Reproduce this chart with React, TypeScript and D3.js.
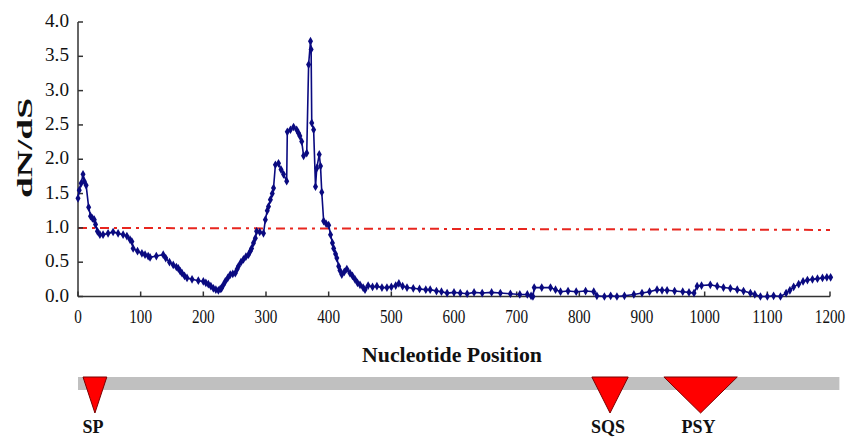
import React from 'react';
import * as d3 from 'd3';

// sliding-window dN/dS along the gene (nucleotide position, ratio)
const positions = [
  0, 2, 5, 8, 10, 13, 17, 20, 23, 26, 28, 31, 35, 40, 48, 56, 64, 72, 78, 83, 86, 88, 95, 102, 107, 112, 115, 125,
  136, 140, 146, 152, 157, 160, 163, 166, 170, 174, 182, 192, 200, 204, 208, 212, 216, 220, 224, 227, 229, 232, 235,
  239, 243, 247, 251, 254, 256, 260, 264, 268, 272, 275, 277, 280, 283, 285, 290, 296, 299, 302, 304, 307, 310, 312,
  315, 320, 324, 328, 333, 334, 339, 344, 349, 352, 354, 357, 360, 365, 368, 371, 372, 373, 376, 379, 381, 385, 387,
  389, 392, 396, 400, 403, 406, 408, 411, 413, 416, 418, 421, 425, 429, 434, 438, 442, 446, 450, 455, 458, 463, 470,
  477, 485, 493, 500, 507, 512, 518, 525, 535, 545, 555, 562, 572, 580, 589, 600, 610, 621, 632, 645, 660, 674, 690,
  705, 717, 723, 726, 728, 740, 754, 762, 770, 782, 795, 810, 823, 828, 840, 850, 860, 872, 887, 900, 912, 924, 932,
  940, 952, 965, 975, 983, 988, 995, 1009, 1020, 1030, 1041, 1052, 1062, 1073, 1080, 1089, 1100, 1110, 1121, 1130,
  1136, 1142, 1150, 1157, 1164, 1172, 1180, 1188, 1195, 1201,
];
const dnds = [
  1.43, 1.55, 1.65, 1.78, 1.68, 1.62, 1.3, 1.17, 1.14, 1.12, 1.05, 0.95, 0.9, 0.9, 0.92, 0.94, 0.92, 0.9, 0.88, 0.83,
  0.8, 0.7, 0.66, 0.63, 0.61, 0.59, 0.57, 0.59, 0.61, 0.56, 0.5, 0.46, 0.43, 0.41, 0.37, 0.34, 0.3, 0.27, 0.25, 0.23,
  0.22, 0.2, 0.18, 0.15, 0.12, 0.1, 0.09, 0.11, 0.12, 0.17, 0.22, 0.27, 0.32, 0.33, 0.34, 0.4, 0.44, 0.5, 0.54, 0.58,
  0.61, 0.66, 0.7, 0.78, 0.85, 0.95, 0.94, 0.92, 1.12, 1.25, 1.31, 1.41, 1.5, 1.58, 1.92, 1.94, 1.85, 1.78, 1.68, 2.4,
  2.43, 2.47, 2.43, 2.38, 2.34, 2.26, 2.05, 2.09, 3.38, 3.72, 3.6, 2.53, 2.43, 1.6, 1.87, 2.07, 1.9, 1.52, 1.1, 1.06,
  1.04, 0.9, 0.78, 0.7, 0.62, 0.56, 0.44, 0.38, 0.32, 0.36, 0.4, 0.34, 0.3, 0.25, 0.2, 0.17, 0.13, 0.1, 0.16, 0.14,
  0.15, 0.13, 0.13, 0.14, 0.16, 0.19, 0.15, 0.13, 0.12, 0.11, 0.1, 0.1, 0.08, 0.07, 0.05, 0.06, 0.05, 0.04, 0.06,
  0.05, 0.06, 0.05, 0.04, 0.03, 0.03, 0.01, 0.0, 0.13, 0.13, 0.13, 0.1, 0.07, 0.08, 0.07, 0.08, 0.07, 0.01, 0.0, 0.01,
  0.0, 0.01, 0.03, 0.05, 0.07, 0.1, 0.09, 0.09, 0.08, 0.07, 0.06, 0.05, 0.15, 0.16, 0.17, 0.15, 0.13, 0.12, 0.1,
  0.08, 0.05, 0.03, 0.0, 0.0, 0.01, 0.0, 0.05, 0.09, 0.14, 0.18, 0.22, 0.24, 0.25, 0.26, 0.27, 0.28, 0.28,
];

const xTicks = [0, 100, 200, 300, 400, 500, 600, 700, 800, 900, 1000, 1100, 1200];
const yTicks = [0, 0.5, 1, 1.5, 2, 2.5, 3, 3.5, 4];
// neutral line (drawn a little tilted in the original)
const neutralLine = [1.0, 0.97];

// gene map features (nucleotide start / end)
const geneLength = 1215;
const featureNames = ['SP', 'SQS', 'PSY'];
const featureStart = [8, 820, 935];
const featureEnd = [46, 878, 1052];

const W = 857;
const H = 439;
const navy = '#0a0a80';
const serif = { fontFamily: 'Liberation Serif, DejaVu Serif, Times New Roman, serif' };

const App = () => {
  const x = d3.scaleLinear().domain([0, 1200]).range([78, 830]);
  const y = d3.scaleLinear().domain([0, 4]).range([296.5, 22]);

  const pts = positions.map((p, i) => [p, dnds[i]] as [number, number]);
  const line = d3.line<[number, number]>().x((d) => x(d[0])).y((d) => y(d[1]));
  const diamond = d3.symbol().type(d3.symbolDiamond).size(22)();

  const barTop = 377;
  const barBottom = 390;
  const apexY = 413;

  return (
    <svg width={W} height={H} style={{ position: 'absolute', left: 0, top: 0, background: '#fff' }}>
      {/* neutral threshold */}
      <line
        x1={x(0)}
        x2={x(1200)}
        y1={y(neutralLine[0])}
        y2={y(neutralLine[1])}
        stroke="#e8261f"
        strokeWidth={2}
        strokeDasharray="9 5 3 5"
      />

      {/* axes */}
      <line x1={x(0)} x2={x(0)} y1={y(0)} y2={y(4)} stroke="#333" strokeWidth={1.5} />
      <line x1={x(0)} x2={x(1200)} y1={y(0)} y2={y(0)} stroke="#333" strokeWidth={1.5} />
      {xTicks.map((t) => (
        <g key={'x' + t}>
          <line x1={x(t)} x2={x(t)} y1={y(0)} y2={y(0) - 5} stroke="#333" strokeWidth={1.5} />
          <text
            x={x(t)}
            y={323}
            textAnchor="middle"
            style={serif}
            fontSize={18}
            textLength={String(t).length * 7.6}
            lengthAdjust="spacingAndGlyphs"
            fill="#111"
          >
            {t}
          </text>
        </g>
      ))}
      {yTicks.map((t) => (
        <g key={'y' + t}>
          <line x1={x(0)} x2={x(0) + 5} y1={y(t)} y2={y(t)} stroke="#333" strokeWidth={1.5} />
          <text
            x={69}
            y={y(t) + 5}
            textAnchor="end"
            style={serif}
            fontSize={18}
            textLength={24}
            lengthAdjust="spacingAndGlyphs"
            fill="#111"
          >
            {t.toFixed(1)}
          </text>
        </g>
      ))}

      {/* axis titles */}
      <text
        transform="translate(32,148) rotate(-90)"
        textAnchor="middle"
        style={serif}
        fontWeight="bold"
        fontSize={22}
        textLength={100}
        lengthAdjust="spacingAndGlyphs"
        fill="#111"
      >
        dN/dS
      </text>
      <text
        x={452}
        y={362}
        textAnchor="middle"
        style={serif}
        fontWeight="bold"
        fontSize={22}
        textLength={180}
        lengthAdjust="spacingAndGlyphs"
        fill="#111"
      >
        Nucleotide Position
      </text>

      {/* dN/dS series */}
      <path d={line(pts) || ''} fill="none" stroke={navy} strokeWidth={1.6} />
      {pts.map((d, i) => (
        <path key={i} d={diamond || ''} transform={`translate(${x(d[0])},${y(d[1])})`} fill={navy} />
      ))}

      {/* gene map */}
      <rect x={x(0)} y={barTop} width={x(geneLength) - x(0)} height={barBottom - barTop} fill="#c0c0c0" />
      {featureNames.map((name, i) => {
        const x0 = x(featureStart[i]);
        const x1 = x(featureEnd[i]);
        const xm = (x0 + x1) / 2;
        return (
          <g key={name}>
            <path d={`M${x0},${barTop}L${x1},${barTop}L${xm},${apexY}Z`} fill="#ff0000" stroke="#7a0000" strokeWidth={1} />
            <text x={xm - 2} y={433} textAnchor="middle" style={serif} fontWeight="bold" fontSize={18} fill="#111">
              {name}
            </text>
          </g>
        );
      })}
    </svg>
  );
};

export default App;
